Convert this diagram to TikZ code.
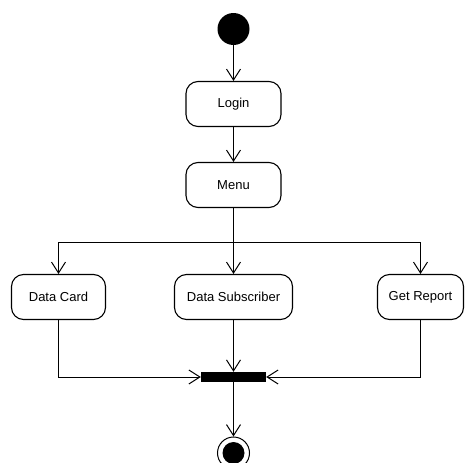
\documentclass[tikz,border=0pt]{standalone}
\usepackage{fontspec}
\setmainfont{Liberation Sans}
\usetikzlibrary{arrows.meta}

\tikzset{
  action/.style={draw, line width=1.1pt, rounded corners=12pt, minimum height=45pt,
    inner sep=2pt, font=\fontsize{13}{15}\selectfont},
  flow/.style={line width=1pt, -{Straight Barb[length=11pt,width=14pt,line width=1pt]}}
}

\begin{document}
\begin{tikzpicture}[x=1pt,y=-1pt]

% Page
\clip (0,0) rectangle (467,463);

% Start and end
\node[circle, fill=black, minimum size=32pt, inner sep=0pt] (start) at (233.5,29) {};
\node[circle, draw, line width=1pt, minimum size=32pt, inner sep=0pt] (final) at (233.5,453) {};
\fill (final.center) circle (11pt);

% Actions
\node[action, minimum width=95pt] (login) at (233.5,104) {Login};
\node[action, minimum width=95pt] (menu) at (233.5,185) {Menu};
\node[action, minimum width=94pt] (card) at (58.5,297) {Data Card};
\node[action, minimum width=118pt] (subscriber) at (233.5,297) {Data Subscriber};
\node[action, minimum width=86pt] (report) at (420.5,297) {Get Report};

% Join bar
\node[fill=black, minimum width=65pt, minimum height=10pt, inner sep=0pt] (bar) at (233.5,377) {};

% Fork point
\coordinate (split) at (233.5,242.5);

% Flows
\draw[flow] (start) -- (login);
\draw[flow] (login) -- (menu);
\draw[flow] (menu) -- (subscriber);
\draw[flow] (split) -| (card);
\draw[flow] (split) -| (report);
\draw[flow] (card) |- (bar);
\draw[flow] (subscriber) -- (bar);
\draw[flow] (report) |- (bar);
\draw[flow] (bar) -- (final);

\end{tikzpicture}
\end{document}
